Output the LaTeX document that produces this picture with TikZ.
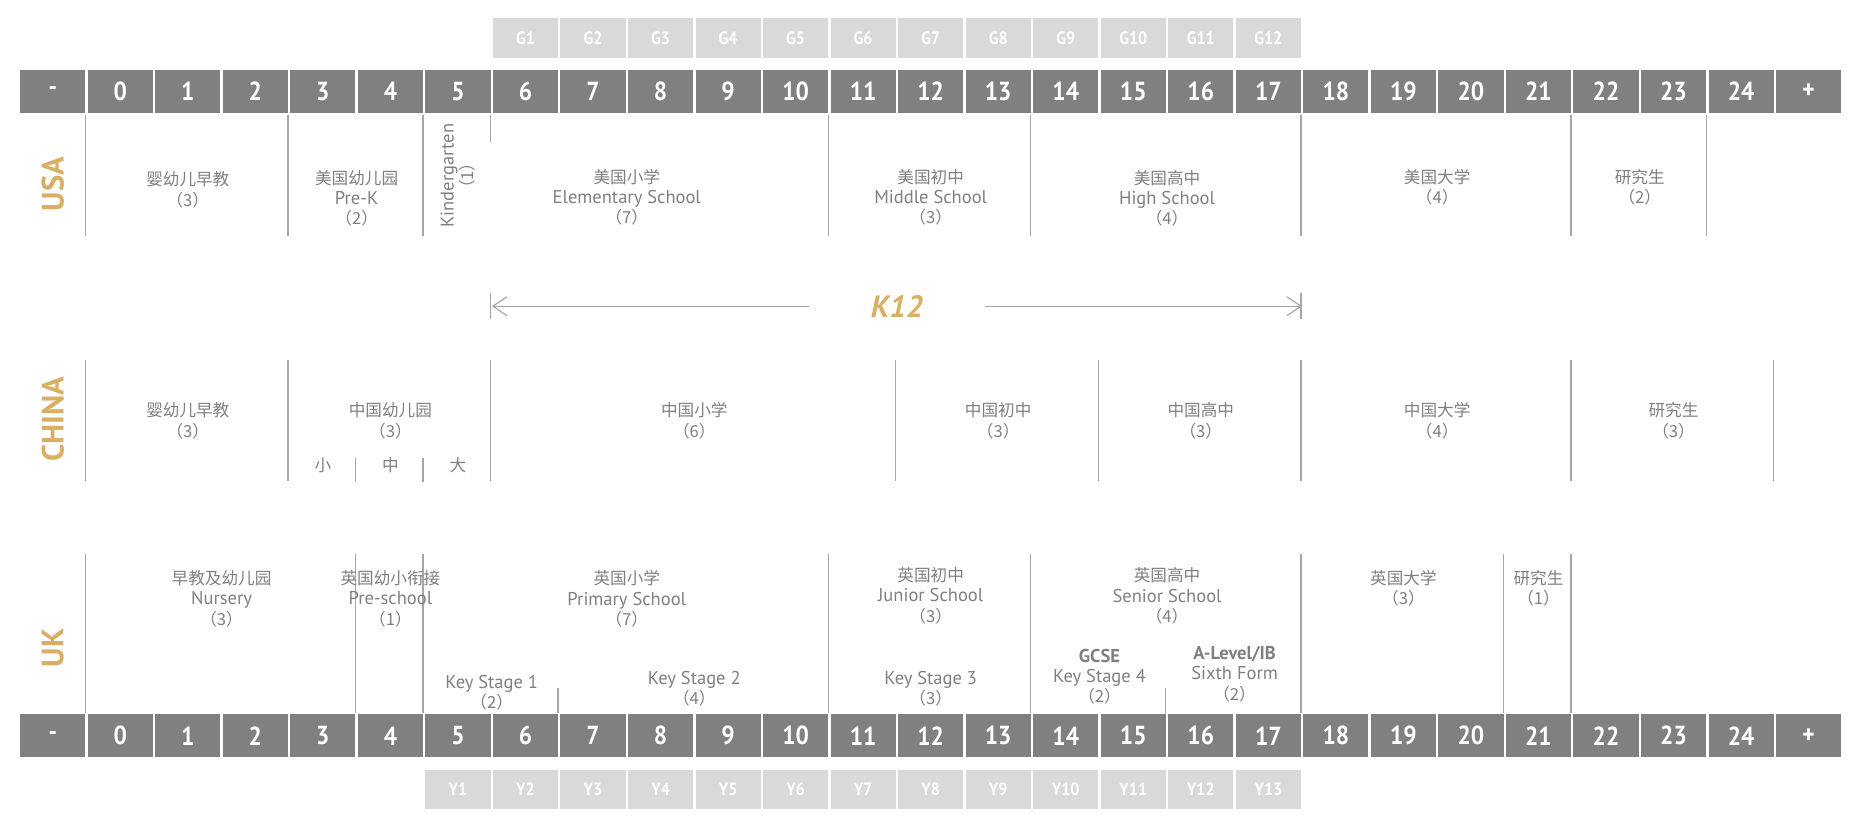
\documentclass[tikz,border=0pt]{standalone}
\usepackage{fontspec}
\setmainfont{PT Sans}
\newfontfamily\cjk{Noto Sans CJK SC}
\newfontfamily\numfont[FakeStretch=0.9]{PT Sans}
\usetikzlibrary{arrows.meta}
\definecolor{bardark}{HTML}{808080}
\definecolor{barlight}{HTML}{D9D9D9}
\definecolor{gold}{HTML}{D9AF64}
\definecolor{rulegray}{HTML}{A6A6A6}
\definecolor{txtgray}{HTML}{7F7F7F}
\newcommand{\zhtext}[1]{{\cjk\fontsize{7}{8.5}\selectfont #1}}
\tikzset{>={Straight Barb[length=6pt,width=8pt]},
  agecell/.style={fill=bardark, text=white, minimum width=27.45pt, minimum height=18pt, inner sep=0pt, font=\numfont\bfseries\fontsize{11}{11}\selectfont},
  gradecell/.style={fill=barlight, text=white, minimum width=27.45pt, minimum height=16.5pt, inner sep=0pt, font=\numfont\bfseries\fontsize{7.5}{7.5}\selectfont},
  stage/.style={text=txtgray, align=center, inner sep=0pt, font=\fontsize{7.8}{8.5}\selectfont},
  country/.style={text=gold, rotate=90, inner sep=0pt, font=\bfseries\fontsize{13}{13}\selectfont},
  divider/.style={rulegray, line width=0.5pt, xshift=-0.5pt}}

\begin{document}
\begin{tikzpicture}[x=28.45pt, y=-0.5pt]
    \useasboundingbox (-1.2812,0) rectangle (26.276,699.3);
    % age bars
    \foreach \a in {0,...,24} {
    \node[agecell] (top\a) at (\a+0.5,77) {\a};
    \node[agecell] (bot\a) at (\a+0.5,620) {\a};
    }
    \node[agecell] (topminus) at (-0.5,77) {-};
    \node[agecell] (topplus) at (25.5,77) {+};
    \node[agecell] (botminus) at (-0.5,620) {-};
    \node[agecell] (botplus) at (25.5,620) {+};
    \foreach \g in {1,...,12}
    \node[gradecell] (g\g) at (\g+5.5,32) {G\g};
    \foreach \g in {1,...,13}
    \node[gradecell] (y\g) at (\g+4.5,665) {Y\g};
    % USA
    \node[country] (usa) at (-0.5,155) {USA};
    \foreach \x in {0,3,5,11,14,18,22,24}
    \draw[divider] (\x,97) -- (\x,199);
    \draw[divider] (6,97) -- (6,120);
    \node[stage] (usnursery) at (1.5,160) {\zhtext{婴幼儿早教}\\\zhtext{（3）}};
    \node[stage] (usprek) at (4,167) {\zhtext{美国幼儿园}\\Pre-K\\\zhtext{（2）}};
    \node[stage, rotate=90] (uskinder) at (5.5,148) {Kindergarten\\\zhtext{（1）}};
    \node[stage] (uselem) at (8,166) {\zhtext{美国小学}\\Elementary School\\\zhtext{（7）}};
    \node[stage] (usmiddle) at (12.5,166) {\zhtext{美国初中}\\Middle School\\\zhtext{（3）}};
    \node[stage] (ushigh) at (16,167) {\zhtext{美国高中}\\High School\\\zhtext{（4）}};
    \node[stage] (usuni) at (20,158) {\zhtext{美国大学}\\\zhtext{（4）}};
    \node[stage] (usgrad) at (23,158) {\zhtext{研究生}\\\zhtext{（2）}};
    % K12
    \coordinate (k12left) at (6,258);
    \coordinate (k12right) at (18,258);
    \node[text=gold, inner sep=0pt, minimum width=73.4pt, font=\bfseries\itshape\fontsize{13}{13}\selectfont] (k12) at (12,258) {K12};
    \draw[divider, ->] (k12.west) -- (k12left);
    \draw[divider, ->] (k12.east) -- (k12right);
    \draw[divider] (6,247) -- (6,269);
    \draw[divider] (18,247) -- (18,269);
    % China
    \node[country] (china) at (-0.5,353) {CHINA};
    \foreach \x in {0,3,6,12,15,18,22,25}
    \draw[divider] (\x,303) -- (\x,405);
    \foreach \x in {4,5}
    \draw[divider] (\x,386) -- (\x,406);
    \node[stage] (cnnursery) at (1.5,354.5) {\zhtext{婴幼儿早教}\\\zhtext{（3）}};
    \node[stage] (cnkinder) at (4.5,354.5) {\zhtext{中国幼儿园}\\\zhtext{（3）}};
    \node[stage] (cnsmall) at (3.5,392) {\zhtext{小}};
    \node[stage] (cnmid) at (4.5,392) {\zhtext{中}};
    \node[stage] (cnbig) at (5.5,392) {\zhtext{大}};
    \node[stage] (cnprim) at (9,354.5) {\zhtext{中国小学}\\\zhtext{（6）}};
    \node[stage] (cnjunior) at (13.5,354.5) {\zhtext{中国初中}\\\zhtext{（3）}};
    \node[stage] (cnsenior) at (16.5,354.5) {\zhtext{中国高中}\\\zhtext{（3）}};
    \node[stage] (cnuni) at (20,354.5) {\zhtext{中国大学}\\\zhtext{（4）}};
    \node[stage] (cngrad) at (23.5,354.5) {\zhtext{研究生}\\\zhtext{（3）}};
    % UK
    \node[country] (uk) at (-0.5,546) {UK};
    \foreach \x in {0,4,5,11,14,18,21,22}
    \draw[divider] (\x,467) -- (\x,601);
    \foreach \x in {7,16}
    \draw[divider] (\x,580) -- (\x,601);
    \node[stage] (uknursery) at (2,504.5) {\zhtext{早教及幼儿园}\\Nursery\\\zhtext{（3）}};
    \node[stage] (ukpre) at (4.5,504.5) {\zhtext{英国幼小衔接}\\Pre-school\\\zhtext{（1）}};
    \node[stage] (ukprim) at (8,504.5) {\zhtext{英国小学}\\Primary School\\\zhtext{（7）}};
    \node[stage] (ukjunior) at (12.5,502) {\zhtext{英国初中}\\Junior School\\\zhtext{（3）}};
    \node[stage] (uksenior) at (16,502) {\zhtext{英国高中}\\Senior School\\\zhtext{（4）}};
    \node[stage] (ukuni) at (19.5,495.5) {\zhtext{英国大学}\\\zhtext{（3）}};
    \node[stage] (ukgrad) at (21.5,495.5) {\zhtext{研究生}\\\zhtext{（1）}};
    \node[stage] (ks1) at (6,583.5) {Key Stage 1\\\zhtext{（2）}};
    \node[stage] (ks2) at (9,580.5) {Key Stage 2\\\zhtext{（4）}};
    \node[stage] (ks3) at (12.5,580.5) {Key Stage 3\\\zhtext{（3）}};
    \node[stage] (ks4) at (15,570) {\textbf{GCSE}\\Key Stage 4\\\zhtext{（2）}};
    \node[stage] (sixth) at (17,568) {\textbf{A-Level/IB}\\Sixth Form\\\zhtext{（2）}};
\end{tikzpicture}
\end{document}
